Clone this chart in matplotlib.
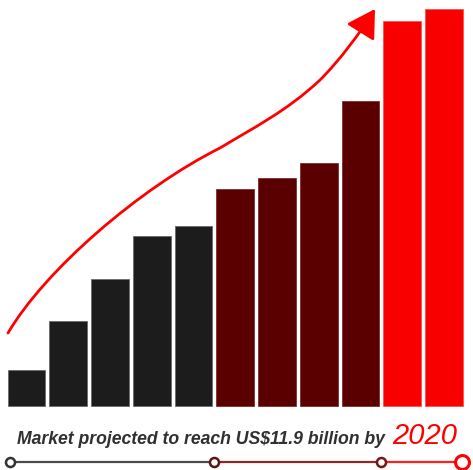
import numpy as np
import matplotlib
matplotlib.use("Agg")
import matplotlib.pyplot as plt
from matplotlib.patches import FancyArrowPatch
from matplotlib.path import Path

# market size per period (US$ billion)
values = [1.08, 2.55, 3.81, 5.10, 5.40, 6.50, 6.83, 7.28, 9.14, 11.54, 11.9]
group_sizes = [5, 4, 2]
group_colors = ["#1c1c1c", "#5a0000", "#f80000"]
group_edges = ["#6a6a6a", "#7a3030", "#ff5050"]
timeline_colors = ["#4a4a4a", "#8a2a2a", "#ff2020"]
marker_colors = ["#333333", "#5a1515", "#7a1515", "#ff0000"]
caption = "Market projected to reach US$11.9 billion by"
caption_year = "2020"

W, H = 473, 470
fig = plt.figure(figsize=(W / 100, H / 100), dpi=100)
ax = fig.add_axes([0, 0, 1, 1])
ax.set_xlim(-0.635, 10.695)
ax.set_ylim(-1.918, 12.17)
ax.axis("off")

colors, edges = [], []
for n, c, e in zip(group_sizes, group_colors, group_edges):
    colors += [c] * n
    edges += [e] * n

x = np.arange(len(values))
ax.bar(x, values, width=0.9, color=colors, edgecolor=edges, linewidth=0.6, zorder=2)


def to_axes(px, py):
    # picture pixels (top-left origin) -> axes fraction
    return px / W, 1 - py / H


# growth arrow, a decoration laid out in picture pixels
curve_px = [(8, 333), (45, 270), (140, 188), (220, 148),
            (253, 128), (287, 111), (320, 80),
            (340, 60), (360, 33), (375, 9)]
codes = [Path.MOVETO] + [Path.CURVE4] * 9
arrow = FancyArrowPatch(path=Path([to_axes(*p) for p in curve_px], codes),
                        arrowstyle="-|>,head_length=17,head_width=10",
                        mutation_scale=1, color="#ff0000", lw=2.0,
                        transform=ax.transAxes, zorder=3)
ax.add_patch(arrow)

# caption
fig.text(385 / W, 1 - 444 / H, caption, ha="right", va="baseline",
         fontsize=12.7, style="italic", fontweight="bold",
         family="Liberation Sans", color="#303030")
fig.text(392 / W, 1 - 444 / H, caption_year, ha="left", va="baseline",
         fontsize=21, style="italic", family="Liberation Sans", color="#ff0000")

# timeline below the caption, split by bar groups
bounds = np.concatenate([[-0.4], np.cumsum(group_sizes) - 0.5])
bounds[-1] = 10.42
ty = ax.get_ylim()[0] + (ax.get_ylim()[1] - ax.get_ylim()[0]) * 8 / H
for i in range(len(group_sizes)):
    ax.plot([bounds[i], bounds[i + 1]], [ty, ty], color=timeline_colors[i],
            lw=1.6, zorder=2, clip_on=False)
for i, b in enumerate(bounds):
    big = i == len(bounds) - 1
    ax.plot(b, ty, "o", ms=10 if big else 6.5, mfc="white",
            mec=marker_colors[i], mew=2.2 if big else 1.8, zorder=3, clip_on=False)

fig.savefig("out.png", dpi=100, facecolor="white")
